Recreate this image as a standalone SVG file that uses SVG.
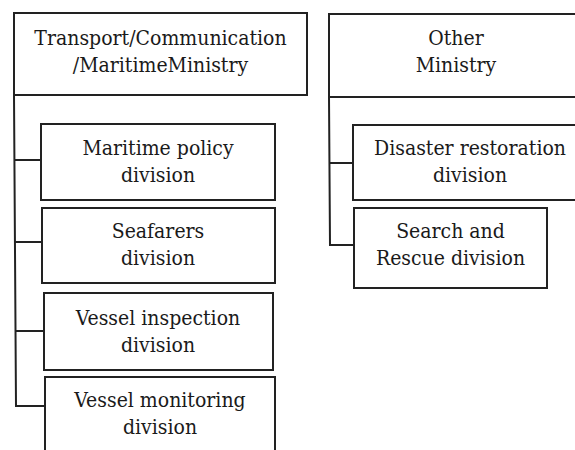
<svg xmlns="http://www.w3.org/2000/svg" width="575" height="450" viewBox="0 0 575 450">
<style>
rect{fill:#fff;stroke:#222;stroke-width:2}
.c{fill:none;stroke:#222;stroke-width:2}
text{font-family:'DejaVu Serif',serif;font-stretch:condensed;font-size:21px;fill:#1a1a1a;text-anchor:middle}
</style>
<rect x="0" y="0" width="575" height="450" style="stroke:none"/>
<g id="connectors">
<path class="c" d="M14,95 L16,406 L45,406"/>
<path class="c" d="M15,160 L41,160 M15,242 L42,242 M16,331 L44,331"/>
<path class="c" d="M329,97 L330,245 L354,245 M330,163 L353,163"/>
</g>
<g id="ministry-transport">
<rect x="14" y="13" width="293" height="82"/>
<text x="160.5" y="45">Transport/Communication</text>
<text x="160.5" y="72">/MaritimeMinistry</text>
</g>
<g id="ministry-other">
<rect x="329" y="14" width="260" height="83"/>
<text x="456" y="45">Other</text>
<text x="456" y="72">Ministry</text>
</g>
<g id="maritime-policy">
<rect x="41" y="124" width="234" height="76"/>
<text x="158" y="155">Maritime policy</text>
<text x="158" y="182">division</text>
</g>
<g id="seafarers">
<rect x="42" y="208" width="233" height="75"/>
<text x="158" y="238">Seafarers</text>
<text x="158" y="265">division</text>
</g>
<g id="vessel-inspection">
<rect x="44" y="293" width="229" height="77"/>
<text x="158" y="325">Vessel inspection</text>
<text x="158" y="352">division</text>
</g>
<g id="vessel-monitoring">
<rect x="45" y="377" width="230" height="80"/>
<text x="160" y="407">Vessel monitoring</text>
<text x="160" y="434">division</text>
</g>
<g id="disaster-restoration">
<rect x="353" y="125" width="235" height="75"/>
<text x="470" y="155">Disaster restoration</text>
<text x="470" y="182">division</text>
</g>
<g id="search-rescue">
<rect x="354" y="208" width="193" height="80"/>
<text x="450.5" y="238">Search and</text>
<text x="450.5" y="265">Rescue division</text>
</g>
</svg>
